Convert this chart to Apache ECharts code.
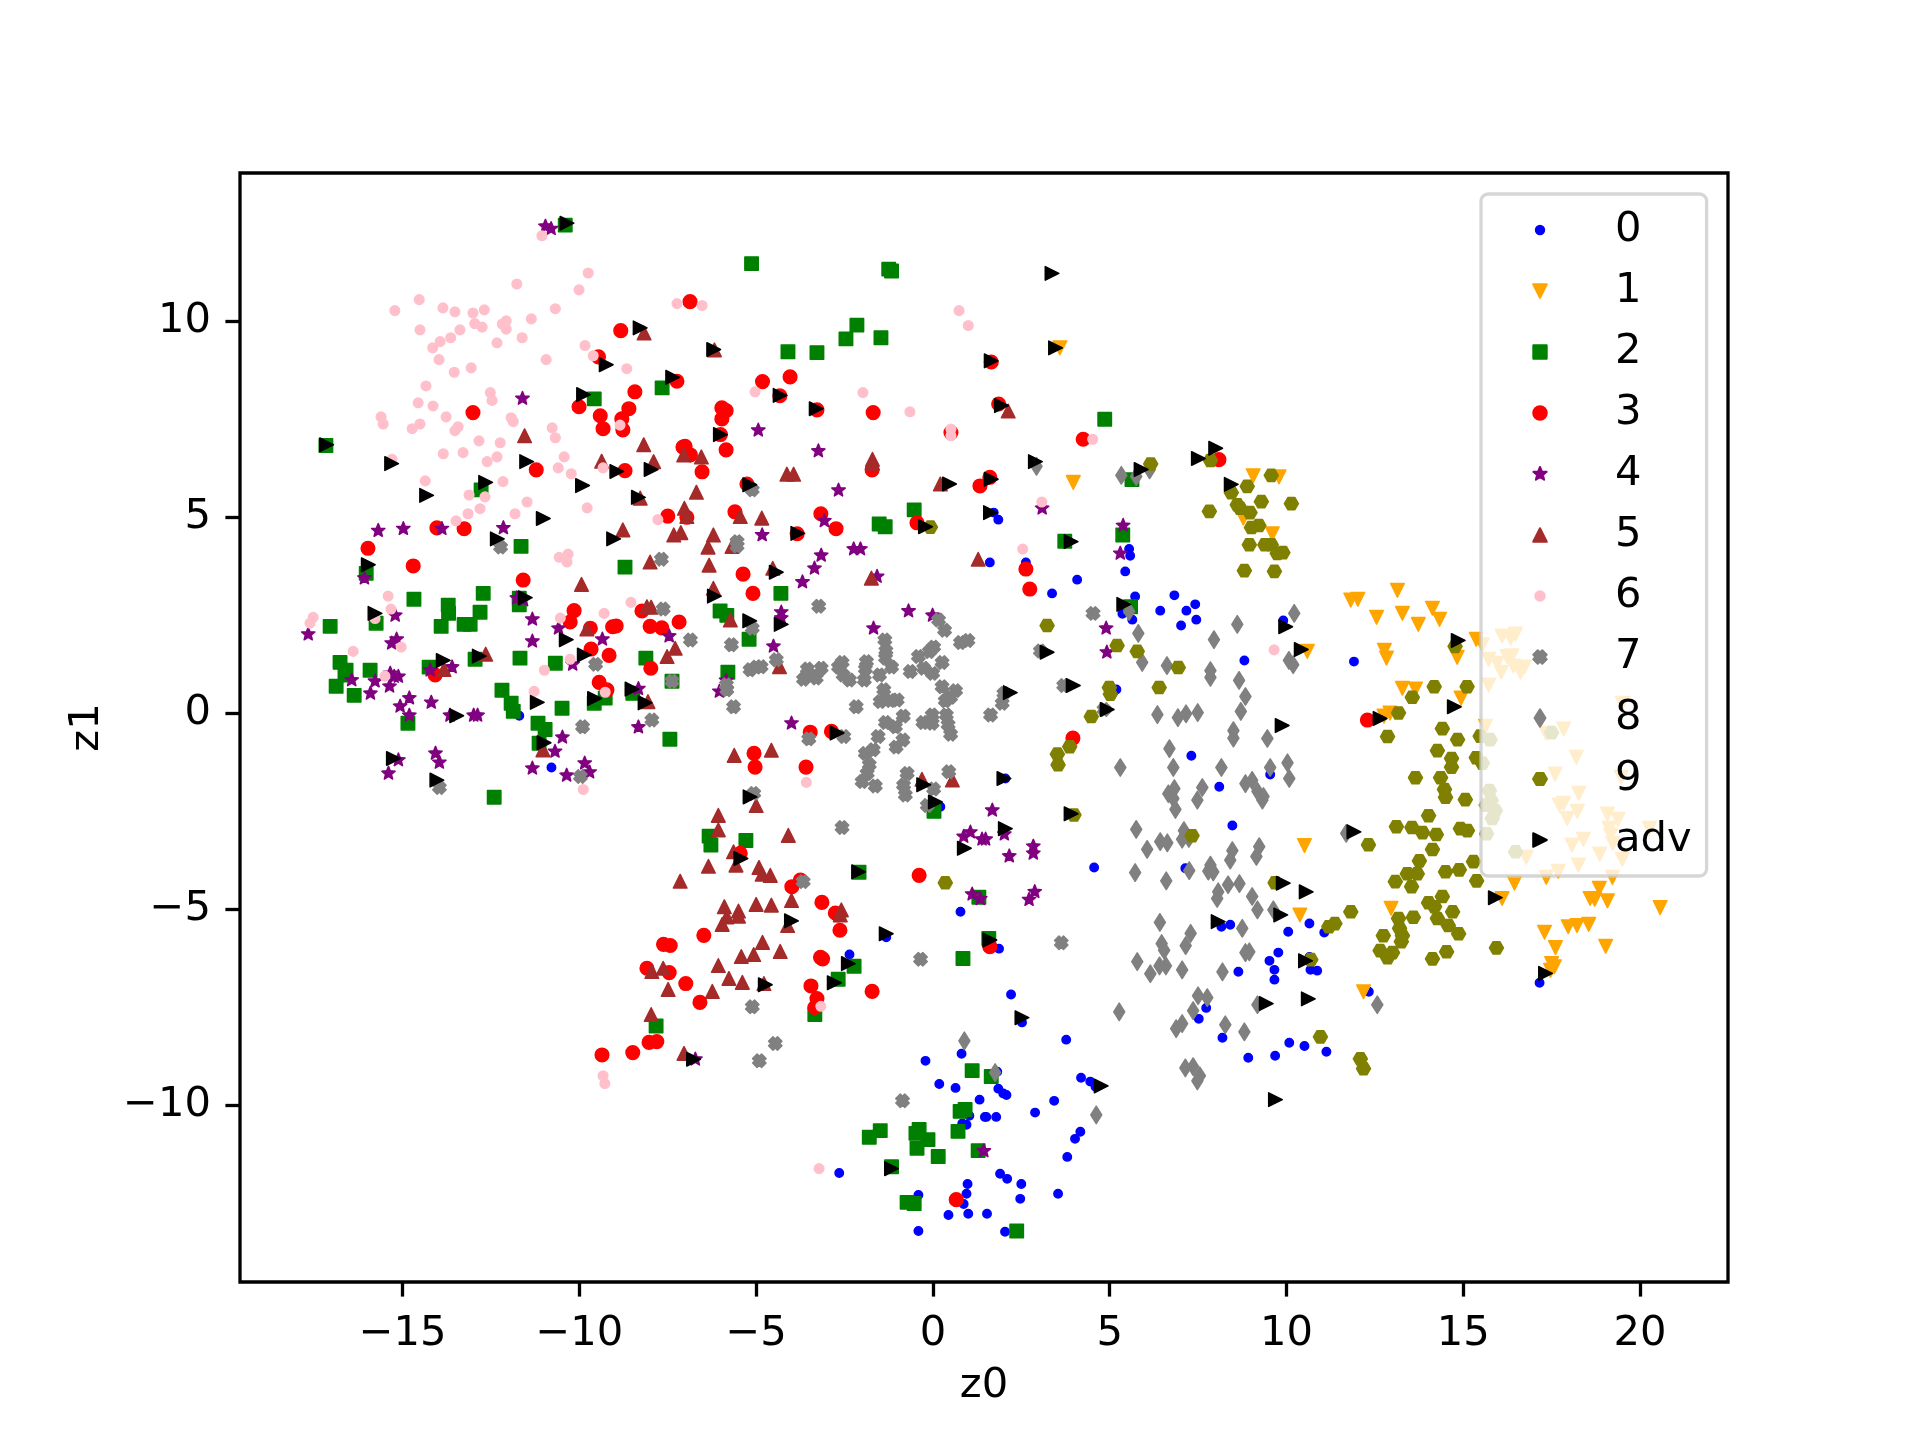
<!DOCTYPE html>
<html>
<head>
<meta charset="utf-8">
<style>html,body{margin:0;background:#fff}#main{width:1920px;height:1440px}</style>
<script src="https://cdn.jsdelivr.net/npm/echarts@6/dist/echarts.min.js"></script>
</head>
<body>
<div id="main"></div>
<script>
var xTicks = [-15, -10, -5, 0, 5, 10, 15, 20];
var yTicks = [-10, -5, 0, 5, 10];

var class0 = [[1.72,5.11],[1.85,4.93],[1.61,3.84],[2.63,3.84],[4.08,3.40],[3.37,3.05],[5.55,4.18],[5.58,4.01],[5.44,3.61],[5.72,2.97],[5.36,2.53],[5.64,2.38],[6.83,3.0],[6.43,2.61],[7.17,2.61],[7.42,2.77],[7.45,2.38],[7.02,2.23],[8.81,1.34],[9.91,2.36],[11.91,1.31],[7.31,-1.09],[8.10,-1.88],[9.54,-1.57],[8.47,-2.87],[4.56,-3.94],[7.14,-3.96],[5.19,0.6],[2.05,-1.67],[-11.70,-0.07],[-10.79,-1.39],[0.21,-2.39],[0.78,-5.07],[-1.32,-5.72],[-2.36,-6.16],[0.81,-8.69],[-0.21,-8.87],[0.18,-9.46],[0.64,-9.56],[1.32,-9.86],[1.47,-10.30],[1.03,-10.27],[0.83,-10.47],[0.95,-10.50],[-2.65,-11.73],[0.98,-12.01],[0.95,-12.26],[-0.41,-12.29],[0.87,-12.52],[0.44,-12.80],[1.0,-12.77],[-0.41,-13.21],[1.87,-6.01],[2.21,-7.18],[2.52,-7.89],[3.77,-8.33],[8.41,-5.40],[8.16,-5.45],[10.05,-5.58],[10.65,-5.37],[11.07,-5.60],[9.77,-6.11],[9.52,-6.32],[9.66,-6.55],[8.64,-6.60],[9.66,-6.80],[10.65,-6.22],[10.68,-6.55],[10.87,-6.57],[7.73,-7.52],[7.52,-7.80],[8.19,-8.28],[10.08,-8.41],[10.51,-8.49],[11.13,-8.64],[9.68,-8.74],[8.92,-8.79],[4.19,-9.30],[4.45,-9.40],[4.60,-9.53],[1.85,-9.58],[1.99,-9.70],[2.08,-9.74],[1.82,-9.15],[3.43,-9.89],[2.89,-10.19],[1.79,-10.30],[1.51,-10.30],[4.17,-10.68],[4.02,-10.86],[3.80,-11.32],[1.90,-11.75],[2.10,-11.88],[2.50,-12.01],[2.47,-12.39],[3.54,-12.26],[1.53,-12.77],[2.04,-13.23],[17.16,-6.88],[12.33,-7.11]];

var class1 = [[3.59,9.31],[3.97,5.88],[9.06,6.05],[9.79,6.02],[8.78,4.97],[9.60,4.57],[11.82,2.88],[10.59,1.57],[10.51,-3.38],[10.38,-5.15],[12.02,2.90],[13.14,3.13],[12.55,2.44],[13.28,2.54],[14.13,2.67],[14.33,2.39],[13.73,2.26],[12.77,1.60],[12.83,1.40],[14.83,1.42],[15.37,1.88],[15.54,1.74],[16.10,1.96],[16.34,1.91],[16.48,2.01],[15.72,1.37],[15.96,1.27],[16.24,1.44],[16.38,1.46],[16.08,1.04],[16.42,1.20],[16.62,1.04],[16.73,1.17],[15.72,0.71],[13.28,0.63],[13.65,0.61],[14.94,0.38],[12.76,-0.08],[12.93,0.0],[15.63,-0.34],[17.35,-0.52],[17.84,-0.41],[19.50,0.25],[18.20,-1.13],[17.60,-1.56],[19.47,-1.64],[18.27,-2.05],[17.72,-2.35],[17.84,-2.30],[18.23,-2.51],[17.94,-2.69],[19.08,-2.58],[19.38,-2.71],[19.13,-2.94],[20.27,-2.94],[19.17,-3.11],[19.23,-3.32],[18.40,-3.22],[18.08,-3.37],[18.86,-3.60],[19.50,-3.73],[16.78,-3.68],[18.26,-3.88],[17.69,-4.04],[17.35,-4.19],[19.22,-4.19],[16.45,-4.34],[16.10,-4.73],[18.85,-4.47],[18.59,-4.73],[18.72,-4.75],[19.08,-4.79],[20.57,-4.96],[12.96,-4.98],[17.30,-5.59],[17.61,-5.98],[17.97,-5.45],[18.22,-5.42],[18.55,-5.39],[19.03,-5.95],[17.50,-6.39],[17.58,-6.47],[17.47,-6.56],[12.18,-7.11]];

var class2 = [[-10.40,12.44],[-17.17,6.82],[-9.58,8.01],[-12.78,5.69],[-11.65,4.25],[-5.13,11.46],[-1.25,11.32],[-1.17,11.27],[-2.15,9.89],[-2.46,9.54],[-1.47,9.57],[-4.10,9.21],[-3.28,9.19],[-7.66,8.29],[-0.53,5.18],[-1.52,4.82],[-1.35,4.75],[4.86,7.49],[5.63,5.95],[5.37,4.54],[3.73,4.38],[5.59,2.71],[-16.03,3.56],[-14.68,2.90],[-13.71,2.75],[-12.72,3.05],[-13.70,2.54],[-12.81,2.57],[-13.91,2.21],[-13.26,2.26],[-13.09,2.26],[-15.75,2.29],[-17.05,2.21],[-11.70,2.93],[-11.70,2.76],[-16.77,1.29],[-16.60,1.09],[-15.92,1.09],[-16.88,0.68],[-16.37,0.45],[-16.63,0.97],[-14.25,1.17],[-12.95,1.37],[-11.68,1.40],[-10.68,1.27],[-12.19,0.58],[-11.93,0.25],[-11.87,0.04],[-14.85,-0.26],[-11.17,-0.26],[-10.97,-0.42],[-10.49,0.12],[-11.14,-0.77],[-12.41,-2.15],[-9.58,0.25],[-9.27,0.38],[-8.71,3.72],[-4.30,3.05],[-6.02,2.60],[-5.83,2.49],[-5.20,1.88],[-8.12,1.40],[-5.80,1.04],[-7.38,0.81],[-8.49,0.50],[-7.44,-0.67],[0.03,-2.51],[-6.33,-3.14],[-6.28,-3.37],[-5.29,-3.25],[-2.09,-4.06],[1.30,-4.70],[-2.23,-6.46],[-2.68,-6.79],[-3.34,-7.69],[-7.83,-7.98],[0.85,-6.26],[1.11,-9.12],[0.91,-10.11],[0.77,-10.16],[0.71,-10.67],[-1.49,-10.65],[-1.80,-10.82],[-0.39,-10.62],[-0.48,-10.72],[-0.14,-10.88],[-0.45,-11.10],[0.15,-11.31],[1.28,-11.16],[-1.17,-11.57],[-0.73,-12.48],[-0.53,-12.51],[2.37,-13.21],[1.65,-9.27],[1.58,-5.75]];

var class3 = [[-13.01,7.66],[-10.01,7.81],[-9.41,7.58],[-9.33,7.25],[-11.22,6.20],[-9.46,9.08],[-14.03,4.72],[-13.26,4.70],[-15.98,4.20],[-8.83,9.75],[-6.87,10.49],[-7.24,8.46],[-8.43,8.19],[-4.82,8.45],[-4.04,8.57],[-4.33,8.09],[-3.28,7.73],[-1.69,7.66],[-8.60,7.76],[-8.80,7.50],[-8.77,7.22],[-5.97,7.78],[-5.85,7.71],[-5.97,7.50],[-6.01,7.10],[-5.85,6.71],[-8.71,6.18],[-7.01,6.80],[-7.07,6.78],[-6.86,6.58],[-6.53,6.15],[-5.26,5.84],[-1.72,6.20],[0.51,7.15],[-7.50,5.02],[-6.96,4.99],[-5.60,5.13],[-3.17,5.08],[-2.74,4.70],[-0.45,4.85],[-3.84,4.57],[1.33,5.79],[1.65,8.95],[1.86,7.88],[4.25,6.98],[8.09,6.46],[1.61,6.01],[-14.70,3.75],[-11.59,3.39],[-10.15,2.61],[-10.26,2.32],[-9.69,2.16],[-9.67,1.63],[-9.16,1.47],[-9.44,0.78],[-9.22,0.59],[-14.08,0.97],[-9.06,2.2],[-5.37,3.54],[-5.09,3.05],[-8.23,2.60],[-8.96,2.22],[-8.0,2.21],[-7.67,2.17],[-7.18,2.32],[-7.98,1.14],[-3.47,-0.49],[-2.87,-0.47],[-5.06,-1.03],[-5.03,-1.38],[-3.59,-1.38],[-5.45,-3.58],[-3.99,-4.43],[-3.75,-4.26],[-3.14,-4.83],[-0.39,-4.14],[-2.76,-5.1],[2.63,3.67],[2.74,3.16],[3.96,-0.64],[12.29,-0.18],[-6.48,-5.67],[-7.62,-5.90],[-7.43,-5.93],[-8.09,-6.51],[-7.46,-6.62],[-6.99,-6.90],[-6.59,-7.38],[-3.18,-6.23],[-3.12,-6.27],[-2.63,-5.54],[-2.68,-5.15],[-3.45,-6.96],[-3.28,-7.28],[-3.34,-7.51],[-1.72,-7.10],[-8.49,-8.66],[-8.03,-8.40],[-7.81,-8.38],[0.66,-12.41],[1.61,-5.96],[-9.36,-8.72]];

var class4 = [[-10.96,12.41],[-10.80,12.35],[-11.61,8.02],[-15.69,4.65],[-14.98,4.70],[-13.89,4.70],[-12.15,4.72],[-4.94,7.21],[-3.24,6.68],[-2.67,5.68],[-3.07,4.90],[-4.83,4.54],[3.09,5.22],[5.38,4.78],[-16.08,3.44],[-15.21,2.49],[-17.67,2.01],[-15.17,1.88],[-15.31,1.78],[-16.44,0.84],[-15.78,0.81],[-15.91,0.50],[-15.35,1.01],[-15.24,0.93],[-15.12,0.93],[-15.37,0.68],[-14.81,0.38],[-15.07,0.17],[-14.81,-0.06],[-14.19,0.27],[-13.66,-0.06],[-13.60,1.17],[-14.22,1.09],[-12.99,-0.06],[-12.88,-0.06],[-11.77,2.93],[-11.58,2.88],[-11.33,2.39],[-11.33,1.83],[-10.59,2.16],[-9.35,1.88],[-10.19,1.24],[-10.48,-0.62],[-10.69,-0.98],[-11.33,-1.41],[-10.36,-1.59],[-9.85,-1.28],[-9.71,-1.51],[-15.12,-1.20],[-15.40,-1.54],[-14.07,-1.03],[-13.96,-1.26],[-3.16,4.02],[-3.35,3.69],[-3.69,3.34],[-2.24,4.18],[-2.05,4.18],[-1.58,3.48],[-0.69,2.60],[-0.01,2.49],[-1.68,2.16],[-7.46,1.96],[-4.51,1.70],[-4.29,2.57],[-4.29,2.42],[-5.85,0.83],[-6.04,0.55],[-8.33,0.62],[-8.33,-0.36],[-4.0,-0.26],[0.87,-3.15],[1.06,-3.04],[1.39,-3.22],[1.11,-4.62],[1.34,-4.74],[5.30,4.07],[4.90,2.16],[4.92,1.55],[1.68,-2.48],[2.02,-3.09],[1.49,-3.22],[2.16,-3.65],[2.84,-3.40],[2.84,-3.58],[2.88,-4.56],[2.72,-4.76],[-6.72,-8.83],[1.44,-11.17]];

var class5 = [[-11.55,7.07],[-9.37,6.42],[-8.17,9.69],[-8.18,6.84],[-7.90,6.41],[-7.05,6.58],[-6.55,6.53],[-6.18,9.26],[-4.13,6.09],[-3.94,6.09],[-1.71,6.47],[-1.71,6.37],[-6.69,5.63],[0.21,5.84],[-7.03,5.22],[-6.96,5.01],[-5.45,5.01],[-4.84,4.97],[-8.77,4.67],[-7.33,4.54],[-7.13,4.60],[-6.21,4.54],[-8.28,5.48],[2.13,7.70],[-9.94,3.28],[-9.79,2.14],[-12.65,1.50],[-13.83,1.11],[-11.03,-0.94],[-8.0,3.85],[-6.33,3.77],[-6.36,4.23],[-5.68,4.25],[1.28,3.92],[-4.53,3.69],[-1.74,3.44],[-6.21,3.18],[-8.09,2.71],[-7.97,2.70],[-5.73,2.37],[-7.29,1.65],[-7.52,1.44],[-4.34,1.18],[-8.06,0.29],[-5.62,-1.08],[-4.57,-0.95],[-0.31,-1.69],[0.55,-1.71],[-5.0,-2.36],[-6.07,-2.61],[-6.07,-2.98],[-4.09,-3.12],[-5.64,-3.54],[-5.57,-3.88],[-6.35,-3.91],[-4.92,-3.94],[-4.83,-4.11],[-4.60,-4.14],[-7.15,-4.29],[-5.90,-4.94],[-5.0,-4.88],[-4.57,-4.90],[-4.0,-4.78],[-5.5,-5.05],[-2.59,-5.02],[-5.96,-5.39],[-5.83,-5.2],[-5.5,-5.18],[-4.11,-5.42],[-2.62,-5.15],[-4.82,-5.85],[-4.32,-6.08],[-5.42,-6.21],[-5.07,-6.16],[-6.07,-6.44],[-7.95,-6.59],[-7.63,-6.51],[-5.77,-6.77],[-5.39,-6.87],[-7.49,-7.05],[-6.24,-7.10],[-4.78,-6.90],[-7.97,-7.69],[-7.04,-8.68]];

var class6 = [[-11.06,12.17],[-9.75,11.22],[-10.01,10.79],[-11.77,10.94],[-14.53,10.54],[-15.22,10.26],[-13.86,10.33],[-13.52,10.23],[-13.01,10.20],[-12.69,10.28],[-12.96,9.93],[-12.75,9.84],[-12.07,10.00],[-12.18,9.92],[-12.07,9.79],[-11.36,10.05],[-10.68,10.31],[-14.51,9.77],[-13.38,9.77],[-13.64,9.57],[-13.94,9.47],[-14.15,9.31],[-11.62,9.57],[-12.33,9.44],[-9.84,9.37],[-9.61,9.11],[-10.94,9.01],[-13.97,9.01],[-13.06,8.80],[-13.54,8.69],[-14.34,8.34],[-12.52,8.17],[-12.47,7.97],[-14.56,7.91],[-14.14,7.83],[-13.77,7.55],[-15.61,7.55],[-15.55,7.37],[-14.51,7.37],[-14.73,7.25],[-13.43,7.30],[-13.52,7.20],[-11.93,7.53],[-11.87,7.43],[-10.77,7.27],[-10.68,7.02],[-12.84,6.94],[-12.24,6.89],[-13.85,6.61],[-13.29,6.64],[-12.33,6.53],[-12.61,6.41],[-10.43,6.53],[-10.60,6.25],[-10.23,6.10],[-9.33,6.25],[-15.3,6.47],[-14.36,5.92],[-12.16,5.90],[-13.12,5.56],[-12.67,5.51],[-11.48,5.38],[-12.81,5.21],[-13.15,5.08],[-11.82,5.08],[-9.78,5.23],[-13.49,4.90],[-7.24,10.44],[-6.53,10.39],[-8.66,8.78],[-5.03,8.19],[-1.98,8.17],[0.74,10.26],[1.0,9.88],[-0.65,7.68],[0.51,7.24],[0.51,7.07],[-8.85,7.34],[-7.78,4.93],[4.52,6.98],[3.08,5.38],[-15.41,2.98],[-15.33,2.65],[-15.78,2.41],[-17.53,2.44],[-17.62,2.29],[-16.40,1.57],[-15.04,1.68],[-15.50,0.94],[-10.54,2.42],[-9.30,2.54],[-10.26,1.37],[-10.99,1.09],[-11.28,0.55],[-9.27,0.53],[-9.89,-1.95],[-10.57,3.97],[-10.32,4.05],[-10.35,3.85],[-8.54,2.82],[-3.58,-1.77],[2.54,4.18],[9.65,1.61],[-3.17,-7.48],[-3.22,-11.62],[-9.33,-9.25],[-9.28,-9.45]];

var class7 = [[-12.23,4.23],[-5.11,5.69],[-5.54,4.37],[-9.54,1.24],[-9.91,-0.35],[-9.97,-1.62],[-13.96,-1.90],[-7.68,3.92],[-5.54,4.26],[-3.23,2.72],[-7.63,2.65],[-6.86,1.86],[-5.70,1.74],[-5.11,2.16],[-4.43,1.36],[-5.17,1.10],[-5.0,1.17],[-4.86,1.18],[-7.38,0.81],[-5.83,0.59],[-5.84,0.72],[-5.64,0.16],[-7.95,-0.18],[-3.66,0.86],[-3.55,1.12],[-3.45,0.95],[-3.30,0.89],[-3.16,1.14],[-2.67,1.17],[-2.57,1.29],[-2.54,0.97],[-2.36,0.84],[-1.88,1.31],[-1.91,1.12],[-1.94,0.84],[-1.51,0.97],[-1.36,1.86],[-1.33,1.59],[-1.34,1.40],[-1.17,1.17],[0.16,2.37],[0.33,2.11],[0.78,1.80],[0.99,1.85],[0.02,1.68],[-0.10,1.57],[-0.41,1.44],[-0.64,1.06],[0.26,1.29],[-0.26,1.14],[-0.01,1.01],[0.26,0.67],[0.64,0.57],[0.50,0.40],[0.35,0.31],[-1.39,0.59],[-1.49,0.29],[-1.20,0.32],[-1.01,0.33],[-2.17,0.16],[-0.84,-0.08],[-1.34,-0.24],[-1.06,-0.35],[-0.28,-0.24],[-0.02,-0.05],[-0.02,-0.26],[0.38,-0.05],[0.43,-0.30],[0.50,-0.54],[-1.55,-0.60],[-0.85,-0.69],[-1.04,-0.87],[-1.69,-0.94],[-1.91,-1.03],[-1.80,-1.32],[-1.86,-1.54],[-2.0,-1.75],[-1.63,-1.86],[-0.73,-1.54],[-0.83,-1.84],[-0.78,-2.09],[0.02,-1.94],[-0.16,-2.36],[0.45,-1.50],[-3.51,-0.66],[-2.52,-0.60],[-5.07,-2.05],[-2.57,-2.92],[-3.67,-4.30],[4.53,2.54],[3.04,1.58],[3.70,0.70],[2.01,0.50],[1.96,0.25],[1.63,-0.05],[4.84,0.09],[-0.35,-6.28],[-5.11,-7.49],[-4.46,-8.43],[-4.91,-8.87],[-0.86,-9.89],[3.63,-5.86]];

var class8 = [[2.93,6.29],[5.33,6.06],[5.75,6.03],[6.13,6.20],[5.55,2.59],[5.81,2.03],[5.92,1.29],[6.62,1.21],[7.95,1.87],[8.61,2.26],[10.22,2.54],[7.85,1.08],[7.85,0.91],[8.66,0.83],[8.84,0.42],[8.71,0.04],[10.07,1.34],[10.19,1.23],[6.35,-0.04],[6.93,-0.12],[7.16,-0.02],[7.49,0.01],[8.50,-0.45],[8.50,-0.64],[9.46,-0.65],[6.69,-0.91],[6.80,-1.39],[5.30,-1.39],[8.16,-1.39],[9.54,-1.39],[10.03,-1.27],[10.08,-1.67],[6.83,-1.93],[6.66,-2.06],[7.62,-1.90],[7.48,-2.22],[6.80,-2.18],[6.86,-2.46],[8.84,-1.80],[9.03,-1.72],[9.18,-2.0],[9.35,-2.13],[9.32,-2.22],[5.75,-2.97],[6.06,-3.48],[6.43,-3.28],[6.63,-3.31],[7.10,-3.0],[7.05,-3.22],[7.24,-3.2],[8.47,-3.51],[8.41,-3.75],[9.23,-3.41],[9.15,-3.66],[5.72,-4.07],[6.60,-4.28],[7.25,-4.02],[7.85,-3.88],[7.79,-4.03],[7.93,-4.05],[8.35,-4.38],[8.67,-4.35],[8.07,-4.56],[8.04,-4.73],[9.03,-4.68],[9.18,-5.02],[9.63,-5.02],[11.69,-3.07],[12.57,-7.44],[0.89,-8.36],[6.42,-5.34],[7.29,-5.62],[7.15,-5.93],[8.75,-5.49],[6.47,-5.88],[6.54,-6.05],[5.78,-6.34],[6.15,-6.65],[6.41,-6.45],[6.59,-6.45],[7.05,-6.55],[8.19,-6.60],[8.84,-6.11],[8.95,-6.09],[7.50,-7.21],[7.76,-7.26],[7.36,-7.59],[9.18,-7.44],[8.27,-7.95],[8.81,-8.13],[7.05,-7.92],[6.88,-8.05],[5.27,-7.62],[7.14,-9.05],[7.36,-9.02],[7.55,-9.25],[7.48,-9.38],[1.76,-9.17],[4.62,-10.25]];

var class9 = [[-0.07,4.74],[6.16,6.35],[7.85,6.44],[8.89,5.78],[8.44,5.62],[9.57,6.06],[9.29,5.39],[10.14,5.34],[7.82,5.14],[8.61,5.31],[8.69,5.22],[8.97,5.11],[9.22,4.78],[9.01,4.73],[8.95,4.29],[9.57,4.29],[9.39,4.29],[9.74,4.07],[9.90,4.09],[8.81,3.63],[9.66,3.61],[3.23,2.23],[5.21,1.72],[5.78,1.57],[6.94,1.16],[4.99,0.65],[5.02,0.48],[6.40,0.65],[4.48,-0.09],[3.87,-0.86],[3.52,-1.05],[3.54,-1.32],[3.99,-2.60],[7.33,-3.13],[9.68,-4.33],[11.82,-5.07],[0.35,-4.33],[14.77,1.70],[14.18,0.67],[15.11,0.67],[13.56,0.40],[13.17,-0.0],[14.41,-0.40],[12.86,-0.60],[14.84,-0.68],[15.48,-0.59],[15.76,-0.68],[17.50,-0.50],[14.27,-0.96],[14.67,-1.16],[14.67,-1.38],[15.37,-1.14],[15.54,-1.28],[13.65,-1.65],[14.36,-1.65],[14.47,-1.95],[14.50,-2.15],[15.06,-2.21],[15.74,-1.98],[15.79,-2.23],[15.65,-2.35],[15.91,-2.49],[15.82,-2.69],[14.02,-2.62],[13.11,-2.90],[13.55,-2.92],[13.85,-3.05],[14.24,-3.10],[14.92,-2.95],[15.12,-3.0],[15.66,-3.08],[12.32,-3.36],[14.13,-3.48],[16.48,-3.54],[13.76,-3.77],[15.29,-3.79],[14.50,-4.05],[14.89,-4.0],[13.42,-4.10],[13.70,-4.10],[13.08,-4.30],[13.54,-4.43],[15.38,-4.28],[14.41,-4.68],[14.02,-4.84],[14.19,-4.94],[14.70,-5.07],[13.17,-5.24],[13.59,-5.21],[14.27,-5.24],[14.58,-5.42],[14.87,-5.63],[12.74,-5.68],[13.20,-5.49],[13.28,-5.68],[13.25,-5.83],[12.65,-6.06],[13.0,-6.11],[12.86,-6.24],[14.13,-6.27],[14.53,-6.09],[15.94,-5.99],[12.09,-8.82],[12.18,-9.07],[11.20,-5.45],[11.37,-5.37],[10.69,-6.29],[10.96,-8.26]];

var classAdv = [[-10.35,12.49],[-17.15,6.84],[-9.88,8.12],[-9.24,8.88],[-15.31,6.36],[-14.32,5.55],[-12.65,5.88],[-11.49,6.41],[-9.91,5.80],[-11.02,4.96],[-12.32,4.44],[-8.94,6.16],[-9.03,4.44],[-7.36,8.56],[-4.32,8.10],[-3.30,7.76],[-8.28,9.82],[-6.20,9.27],[-6.01,7.10],[-7.97,6.21],[-5.18,5.82],[-8.33,5.50],[-3.82,4.58],[-0.21,4.75],[0.47,5.84],[3.37,11.21],[3.47,9.31],[1.65,8.98],[1.94,7.84],[2.90,6.41],[1.65,5.96],[5.89,6.21],[7.51,6.49],[8.00,6.75],[8.44,5.83],[1.63,5.11],[3.91,4.37],[-15.97,3.78],[-15.78,2.54],[-13.85,1.34],[-12.83,1.45],[-11.53,2.94],[-10.37,1.87],[-9.86,1.48],[-11.19,0.27],[-9.57,0.37],[-13.47,-0.07],[-11.00,-0.76],[-15.26,-1.16],[-14.03,-1.71],[-4.43,3.59],[-6.18,2.98],[-5.18,2.35],[-4.29,2.26],[-8.51,0.61],[-8.14,0.26],[-2.71,-0.51],[-0.26,-1.83],[0.07,-2.27],[-5.17,-2.14],[-5.43,-3.71],[-2.10,-4.05],[0.89,-3.45],[5.40,2.77],[9.98,2.20],[10.42,1.62],[3.23,1.55],[3.97,0.70],[2.19,0.52],[4.93,0.09],[9.88,-0.32],[2.01,-1.67],[3.91,-2.57],[2.05,-2.95],[9.91,-4.34],[10.56,-4.56],[9.84,-5.15],[11.91,-3.03],[14.86,1.85],[14.75,0.16],[12.65,-0.14],[15.91,-4.71],[17.33,-6.64],[-4.0,-5.30],[-1.32,-5.63],[-2.39,-6.39],[-2.79,-6.88],[-4.74,-6.93],[-6.77,-8.83],[-1.17,-11.62],[1.61,-5.79],[2.52,-7.77],[4.76,-9.51],[8.07,-5.32],[10.54,-6.32],[9.43,-7.41],[10.62,-7.29],[9.69,-9.86]];

var seriesNames = ['0', '1', '2', '3', '4', '5', '6', '7', '8', '9', 'adv'];
var seriesData = [class0, class1, class2, class3, class4, class5, class6, class7, class8, class9, classAdv];
var colors = ['#0000ff', '#ffa500', '#008000', '#ff0000', '#800080', '#a52a2a', '#ffc0cb', '#808080', '#808080', '#808000', '#000000'];

// all marker shapes sit in the same 20x20 box, the two lone moves pin its bounds
var box = 'path://M0 0M20 20';
var shapes = [
    box + 'M5.8 10A4.2 4.2 0 1 1 14.2 10A4.2 4.2 0 1 1 5.8 10Z',
    box + 'M3.2 3.2L16.8 3.2L10 16.8Z',
    box + 'M3.3 3.3L16.7 3.3L16.7 16.7L3.3 16.7Z',
    box + 'M3.2 10A6.8 6.8 0 1 1 16.8 10A6.8 6.8 0 1 1 3.2 10Z',
    box + 'M10 3L11.82 7.49L16.66 7.84L12.95 10.96L14.11 15.66L10 13.1L5.89 15.66L7.05 10.96L3.34 7.84L8.18 7.49Z',
    box + 'M10 3.2L16.8 16.8L3.2 16.8Z',
    box + 'M5.2 10A4.8 4.8 0 1 1 14.8 10A4.8 4.8 0 1 1 5.2 10Z',
    box + 'M7.77 3.3L10 5.53L12.23 3.3L16.7 7.77L14.47 10L16.7 12.23L12.23 16.7L10 14.47L7.77 16.7L3.3 12.23L5.53 10L3.3 7.77Z',
    box + 'M10 1.3L15.5 10L10 18.7L4.5 10Z',
    box + 'M3 10L6.5 3.94L13.5 3.94L17 10L13.5 16.06L6.5 16.06Z',
    box + 'M3.2 3.2L16.8 10L3.2 16.8Z'
];

var chart = echarts.init(document.getElementById('main'));

var series = [];
var legendData = [];
for (var i = 0; i < seriesNames.length; i++) {
    series.push({
        name: seriesNames[i],
        type: 'scatter',
        data: seriesData[i],
        symbol: shapes[i],
        symbolSize: 20,
        silent: true,
        itemStyle: {
            color: colors[i],
            opacity: 1,
            borderColor: colors[i],
            borderWidth: 1.5,
            borderJoin: 'round'
        }
    });
    legendData.push({name: seriesNames[i], icon: shapes[i]});
}

var fontFamily = '"DejaVu Sans"';

chart.setOption({
    animation: false,
    backgroundColor: '#ffffff',
    grid: {
        left: 240,
        right: 192,
        top: 173,
        bottom: 158,
        show: true,
        borderColor: '#000000',
        borderWidth: 3.3,
        backgroundColor: 'transparent'
    },
    legend: {
        left: 1481,
        top: 194,
        orient: 'vertical',
        data: legendData,
        selectedMode: false,
        itemWidth: 20,
        itemHeight: 20,
        itemGap: 19,
        padding: [15, 15, 15, 48],
        backgroundColor: 'rgba(255,255,255,0.8)',
        borderColor: 'rgba(204,204,204,0.8)',
        borderWidth: 3.3,
        borderRadius: 7,
        textStyle: {
            color: '#000000',
            fontFamily: fontFamily,
            fontSize: 41.67,
            padding: [0, 0, 0, 60]
        }
    },
    xAxis: {
        type: 'value',
        min: -19.6,
        max: 22.49,
        name: 'z0',
        nameLocation: 'middle',
        nameGap: 83,
        nameTextStyle: {color: '#000000', fontFamily: fontFamily, fontSize: 41.67},
        splitLine: {show: false},
        axisLine: {show: false, onZero: false},
        axisTick: {show: true, length: 14.6, customValues: xTicks, lineStyle: {color: '#000000', width: 3.3}},
        axisLabel: {
            customValues: xTicks,
            margin: 31,
            color: '#000000',
            fontFamily: fontFamily,
            fontSize: 41.67,
            formatter: function (v) { return String(v).replace('-', '\u2212'); }
        }
    },
    yAxis: {
        type: 'value',
        min: -14.51,
        max: 13.77,
        name: 'z1',
        nameLocation: 'middle',
        nameGap: 132,
        nameTextStyle: {color: '#000000', fontFamily: fontFamily, fontSize: 41.67},
        splitLine: {show: false},
        axisLine: {show: false, onZero: false},
        axisTick: {show: true, length: 14.6, customValues: yTicks, lineStyle: {color: '#000000', width: 3.3}},
        axisLabel: {
            customValues: yTicks,
            margin: 29,
            padding: [8, 0, 0, 0],
            color: '#000000',
            fontFamily: fontFamily,
            fontSize: 41.67,
            formatter: function (v) { return String(v).replace('-', '\u2212'); }
        }
    },
    series: series
});
</script>
</body>
</html>
